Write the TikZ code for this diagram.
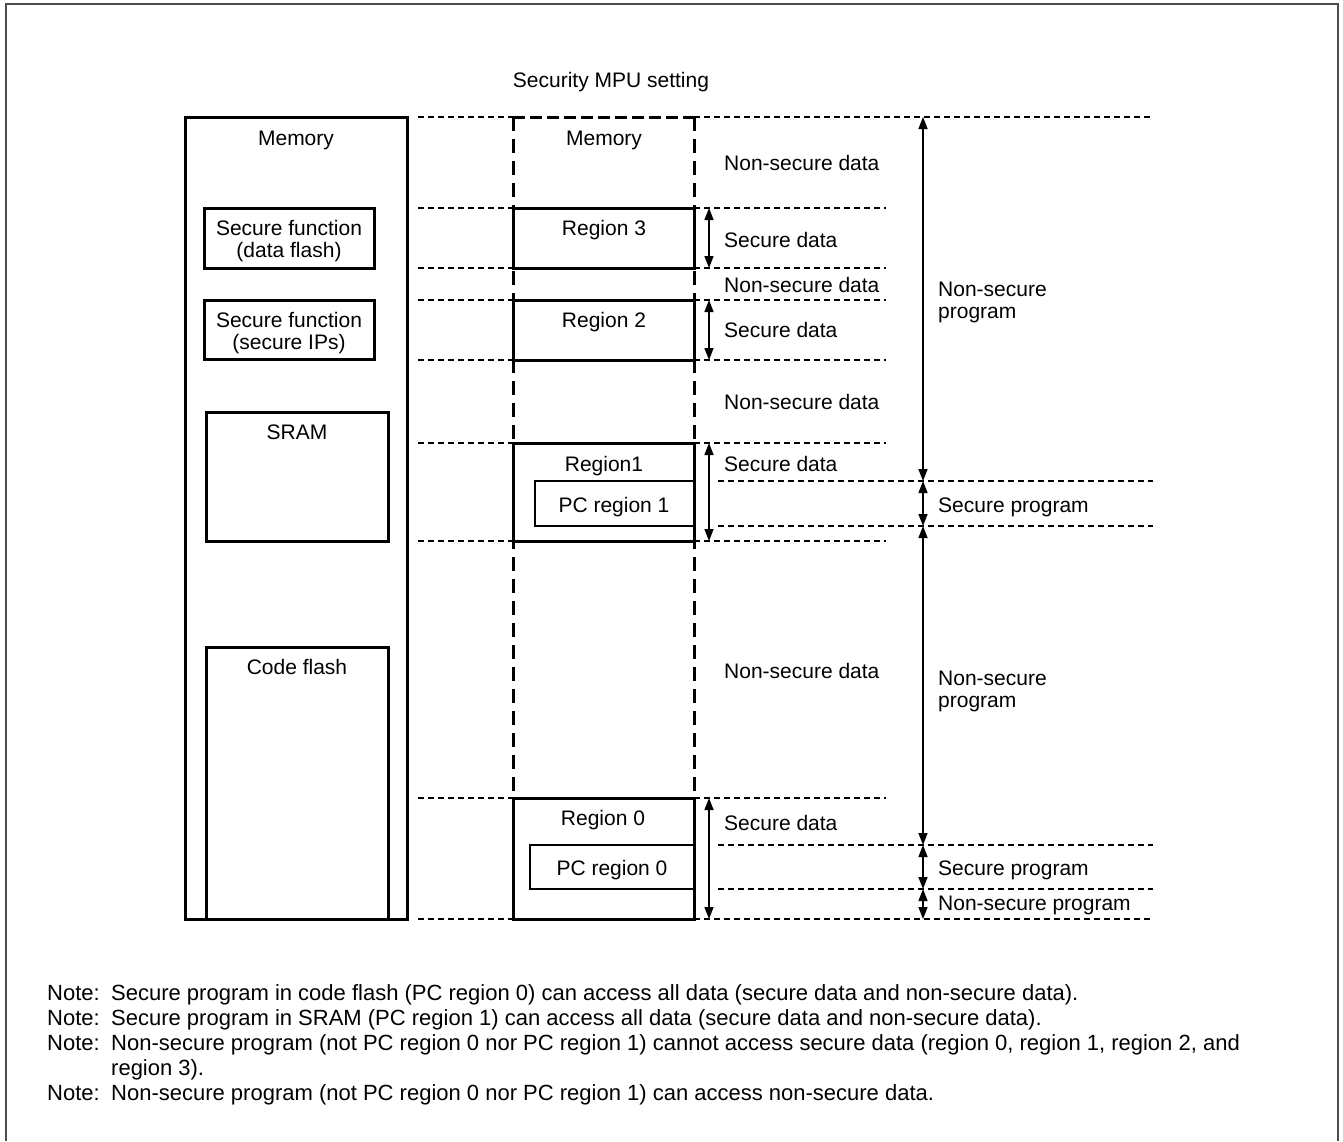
\documentclass[tikz,border=0pt]{standalone}
\usepackage{fontspec}
\setmainfont{Liberation Sans}
\usetikzlibrary{arrows.meta}
\begin{document}
\begin{tikzpicture}[x=1pt,y=-1pt,
  thickbox/.style={line width=3pt},
  thinbox/.style={line width=1.5pt},
  guide/.style={line width=1.5pt, dash pattern=on 6pt off 4pt},
  colline/.style={line width=3pt, dash pattern=on 14pt off 8pt},
  coltop/.style={line width=3pt, dash pattern=on 12pt off 5pt},
  dimarrow/.style={line width=1.5pt, {Triangle[width=9pt,length=12pt]}-{Triangle[width=9pt,length=12pt]}},
  lbl/.style={font=\fontsize{21}{22}\selectfont, inner sep=0pt, anchor=base},
  rlbl/.style={lbl, anchor=base west},
  notelbl/.style={font=\fontsize{22}{25}\selectfont, inner sep=0pt, anchor=base west}]
\useasboundingbox (0,0) rectangle (1343,1141);
% frame
\draw[line width=2pt, black!70] (6,1141) -- (6,4) -- (1338,4) -- (1338,1141);

% guide lines
\draw[guide] (418,117) -- (513,117);
\draw[guide] (694,117) -- (1153,117);
\foreach \yy in {208,268,300,360,443,541,798} {
  \draw[guide] (418,\yy) -- (513,\yy);
  \draw[guide] (694,\yy) -- (886,\yy);
}
\foreach \yy in {481,526,845,889} {
  \draw[guide] (718,\yy) -- (1153,\yy);
}
\draw[guide] (418,919) -- (513,919);
\draw[guide] (694,919) -- (1153,919);

% MPU column
\draw[coltop] (513,117) -- (694,117);
\draw[colline] (513,117) -- (513,919);
\draw[colline] (694,117) -- (694,919);

% left memory
\draw[thickbox] (185,117) rectangle (407,919);
\draw[thickbox] (204,208) rectangle (374,268);
\draw[thickbox] (204,300) rectangle (374,359);
\draw[thickbox] (206,412) rectangle (388,541);
\draw[thickbox] (206,647) rectangle (388,919);

% regions
\draw[thickbox, fill=white] (513,208) rectangle (694,268);
\draw[thickbox, fill=white] (513,300) rectangle (694,360);
\draw[thickbox, fill=white] (513,443) rectangle (694,541);
\draw[thickbox, fill=white] (513,798) rectangle (694,919);
\draw[thinbox] (694,481) -- (535,481) -- (535,526) -- (694,526);
\draw[thinbox] (694,845) -- (530,845) -- (530,889) -- (694,889);

% coordinates for arrows
\coordinate (s3t) at (709,208); \coordinate (s3b) at (709,268);
\coordinate (s2t) at (709,300); \coordinate (s2b) at (709,360);
\coordinate (s1t) at (709,443); \coordinate (s1b) at (709,541);
\coordinate (s0t) at (709,798); \coordinate (s0b) at (709,919);
\coordinate (p0) at (923,117);
\coordinate (p1) at (923,481);
\coordinate (p2) at (923,526);
\coordinate (p3) at (923,845);
\coordinate (p4) at (923,889);
\coordinate (p5) at (923,919);
\draw[dimarrow] (s3t) -- (s3b);
\draw[dimarrow] (s2t) -- (s2b);
\draw[dimarrow] (s1t) -- (s1b);
\draw[dimarrow] (s0t) -- (s0b);
\draw[dimarrow] (p0) -- (p1);
\draw[dimarrow] (p1) -- (p2);
\draw[dimarrow] (p2) -- (p3);
\draw[dimarrow] (p3) -- (p4);
\draw[dimarrow] (p4) -- (p5);

% labels
\node[lbl] (title) at (611,87) {Security MPU setting};
\node[lbl] (memL) at (296,145) {Memory};
\node[lbl] (memR) at (604,145) {Memory};
\node[lbl] (sf1a) at (289,235) {Secure function};
\node[lbl] (sf1b) at (289,257) {(data flash)};
\node[lbl] (sf2a) at (289,327) {Secure function};
\node[lbl] (sf2b) at (289,349) {(secure IPs)};
\node[lbl] (sram) at (297,439) {SRAM};
\node[lbl] (cfl) at (297,674) {Code flash};
\node[lbl] (r3) at (604,235) {Region 3};
\node[lbl] (r2) at (604,327) {Region 2};
\node[lbl] (r1) at (604,471) {Region1};
\node[lbl] (pc1) at (614,512) {PC region 1};
\node[lbl] (r0) at (603,825) {Region 0};
\node[lbl] (pc0) at (612,875) {PC region 0};

\node[rlbl] (nsd1) at (724,170) {Non-secure data};
\node[rlbl] (sd3) at (724,247) {Secure data};
\node[rlbl] (nsd2) at (724,292) {Non-secure data};
\node[rlbl] (sd2) at (724,337) {Secure data};
\node[rlbl] (nsd3) at (724,409) {Non-secure data};
\node[rlbl] (sd1) at (724,471) {Secure data};
\node[rlbl] (nsd4) at (724,678) {Non-secure data};
\node[rlbl] (sd0) at (724,830) {Secure data};

\node[rlbl] (nsp1a) at (938,296) {Non-secure};
\node[rlbl] (nsp1b) at (938,318) {program};
\node[rlbl] (sp1) at (938,512) {Secure program};
\node[rlbl] (nsp2a) at (938,685) {Non-secure};
\node[rlbl] (nsp2b) at (938,707) {program};
\node[rlbl] (sp0) at (938,875) {Secure program};
\node[rlbl] (nsp3) at (938,910) {Non-secure program};

% notes
\node[notelbl] (n1) at (47,1000) {Note:};
\node[notelbl] (t1) at (111,1000) {Secure program in code flash (PC region 0) can access all data (secure data and non-secure data).};
\node[notelbl] (n2) at (47,1025) {Note:};
\node[notelbl] (t2) at (111,1025) {Secure program in SRAM (PC region 1) can access all data (secure data and non-secure data).};
\node[notelbl] (n3) at (47,1050) {Note:};
\node[notelbl] (t3) at (111,1050) {Non-secure program (not PC region 0 nor PC region 1) cannot access secure data (region 0, region 1, region 2, and};
\node[notelbl] (t3b) at (111,1075) {region 3).};
\node[notelbl] (n4) at (47,1100) {Note:};
\node[notelbl] (t4) at (111,1100) {Non-secure program (not PC region 0 nor PC region 1) can access non-secure data.};
\end{tikzpicture}
\end{document}
